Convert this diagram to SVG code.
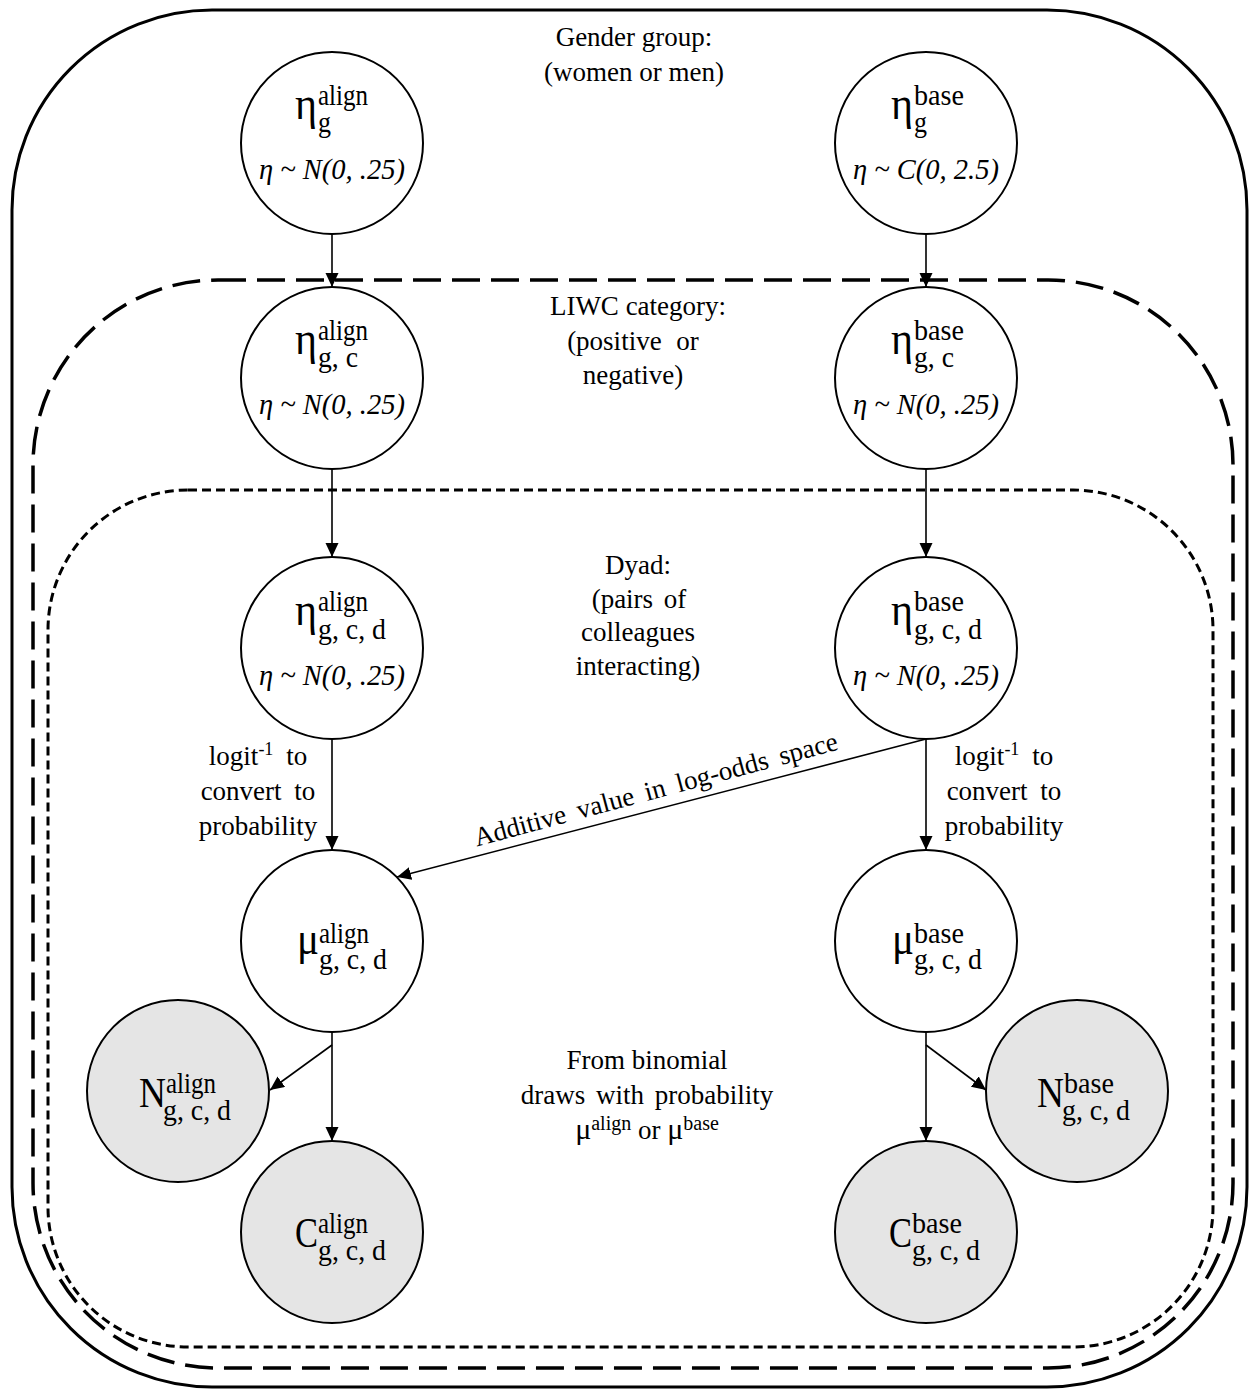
<svg xmlns="http://www.w3.org/2000/svg" width="1257" height="1389" viewBox="0 0 1257 1389">
<defs>
<marker id="ah" markerUnits="userSpaceOnUse" markerWidth="15" markerHeight="14" refX="14" refY="6.5" orient="auto">
<path d="M0,0 L14,6.5 L0,13 z" fill="#000"/>
</marker>
<style>
text{font-family:"Liberation Serif","Times New Roman",serif;fill:#000}
.lbl{font-size:27px;text-anchor:middle}
.big{font-size:46px}
.cap{font-size:42px}
.scr{font-size:30px}
.frm{font-size:29px;font-style:italic;text-anchor:middle}
.node{fill:#fff;stroke:#000;stroke-width:2}
.obs{fill:#e5e5e5;stroke:#000;stroke-width:2}
.edge{stroke:#000;stroke-width:1.6;fill:none;marker-end:url(#ah)}
</style>
</defs>
<rect width="1257" height="1389" fill="#fff"/>
<g id="plates" fill="none" stroke="#000">
<rect id="plate-gender" x="12" y="10" width="1235" height="1377" rx="200" ry="200" stroke-width="3"/>
<rect id="plate-liwc" x="33" y="280" width="1200" height="1088" rx="185" ry="185" stroke-width="3.5" stroke-dasharray="28 11"/>
<rect id="plate-dyad" x="48" y="490" width="1165" height="857" rx="140" ry="140" stroke-width="3" stroke-dasharray="9 5"/>
</g>
<g id="plate-labels">
<text class="lbl" x="634" y="46">Gender group:</text>
<text class="lbl" x="634" y="81">(women or men)</text>
<text class="lbl" x="638" y="315">LIWC category:</text>
<text class="lbl" x="633" y="350" word-spacing="8">(positive or</text>
<text class="lbl" x="633" y="384">negative)</text>
<text class="lbl" x="638" y="574">Dyad:</text>
<text class="lbl" x="639" y="608" word-spacing="4">(pairs of</text>
<text class="lbl" x="638" y="641">colleagues</text>
<text class="lbl" x="638" y="675">interacting)</text>
<text class="lbl" x="647" y="1069">From binomial</text>
<text class="lbl" x="647" y="1104" word-spacing="4">draws with probability</text>
<text class="lbl" x="647" y="1139"><tspan font-size="30">μ</tspan><tspan font-size="20" dy="-9">align</tspan><tspan dy="9"> or </tspan><tspan font-size="30">μ</tspan><tspan font-size="20" dy="-9">base</tspan></text>
</g>
<g id="connectors">
<line class="edge" x1="332" y1="234" x2="332" y2="287"/>
<line class="edge" x1="926" y1="234" x2="926" y2="287"/>
<line class="edge" x1="332" y1="469" x2="332" y2="557"/>
<line class="edge" x1="926" y1="469" x2="926" y2="557"/>
<line class="edge" x1="332" y1="739" x2="332" y2="850"/>
<line class="edge" x1="926" y1="739" x2="926" y2="850"/>
<line class="edge" x1="926" y1="739" x2="397" y2="877"/>
<line class="edge" x1="332" y1="1032" x2="332" y2="1141"/>
<line class="edge" x1="332" y1="1045" x2="270" y2="1090"/>
<line class="edge" x1="926" y1="1032" x2="926" y2="1141"/>
<line class="edge" x1="926" y1="1045" x2="986" y2="1090"/>
<text class="lbl" x="258" y="765">logit<tspan font-size="18" dy="-10">-1</tspan><tspan dy="10" word-spacing="6"> to</tspan></text>
<text class="lbl" x="258" y="800" word-spacing="6">convert to</text>
<text class="lbl" x="258" y="835">probability</text>
<text class="lbl" x="1004" y="765">logit<tspan font-size="18" dy="-10">-1</tspan><tspan dy="10" word-spacing="6"> to</tspan></text>
<text class="lbl" x="1004" y="800" word-spacing="6">convert to</text>
<text class="lbl" x="1004" y="835">probability</text>
<text class="lbl" x="658" y="798" word-spacing="5" transform="rotate(-15 658 798)">Additive value in log-odds space</text>
</g>
<g id="eta-g-align">
<circle class="node" cx="332" cy="143" r="91"/>
<text class="big" x="295" y="119" textLength="22" lengthAdjust="spacingAndGlyphs">η</text>
<text class="scr" x="318" y="105" textLength="50" lengthAdjust="spacingAndGlyphs">align</text>
<text class="scr" x="318" y="132" textLength="13" lengthAdjust="spacingAndGlyphs">g</text>
<text class="frm" x="332" y="179" textLength="146" lengthAdjust="spacingAndGlyphs">η ~ N(0, .25)</text>
</g>
<g id="eta-g-base">
<circle class="node" cx="926" cy="143" r="91"/>
<text class="big" x="891" y="119" textLength="22" lengthAdjust="spacingAndGlyphs">η</text>
<text class="scr" x="914" y="105" textLength="50" lengthAdjust="spacingAndGlyphs">base</text>
<text class="scr" x="914" y="132" textLength="13" lengthAdjust="spacingAndGlyphs">g</text>
<text class="frm" x="926" y="179" textLength="146" lengthAdjust="spacingAndGlyphs">η ~ C(0, 2.5)</text>
</g>
<g id="eta-gc-align">
<circle class="node" cx="332" cy="378" r="91"/>
<text class="big" x="295" y="354" textLength="22" lengthAdjust="spacingAndGlyphs">η</text>
<text class="scr" x="318" y="340" textLength="50" lengthAdjust="spacingAndGlyphs">align</text>
<text class="scr" x="318" y="367" textLength="40" lengthAdjust="spacingAndGlyphs">g, c</text>
<text class="frm" x="332" y="414" textLength="146" lengthAdjust="spacingAndGlyphs">η ~ N(0, .25)</text>
</g>
<g id="eta-gc-base">
<circle class="node" cx="926" cy="378" r="91"/>
<text class="big" x="891" y="354" textLength="22" lengthAdjust="spacingAndGlyphs">η</text>
<text class="scr" x="914" y="340" textLength="50" lengthAdjust="spacingAndGlyphs">base</text>
<text class="scr" x="914" y="367" textLength="40" lengthAdjust="spacingAndGlyphs">g, c</text>
<text class="frm" x="926" y="414" textLength="146" lengthAdjust="spacingAndGlyphs">η ~ N(0, .25)</text>
</g>
<g id="eta-gcd-align">
<circle class="node" cx="332" cy="648" r="91"/>
<text class="big" x="295" y="625" textLength="22" lengthAdjust="spacingAndGlyphs">η</text>
<text class="scr" x="318" y="611" textLength="50" lengthAdjust="spacingAndGlyphs">align</text>
<text class="scr" x="318" y="639" textLength="68" lengthAdjust="spacingAndGlyphs">g, c, d</text>
<text class="frm" x="332" y="685" textLength="146" lengthAdjust="spacingAndGlyphs">η ~ N(0, .25)</text>
</g>
<g id="eta-gcd-base">
<circle class="node" cx="926" cy="648" r="91"/>
<text class="big" x="891" y="625" textLength="22" lengthAdjust="spacingAndGlyphs">η</text>
<text class="scr" x="914" y="611" textLength="50" lengthAdjust="spacingAndGlyphs">base</text>
<text class="scr" x="914" y="639" textLength="68" lengthAdjust="spacingAndGlyphs">g, c, d</text>
<text class="frm" x="926" y="685" textLength="146" lengthAdjust="spacingAndGlyphs">η ~ N(0, .25)</text>
</g>
<g id="mu-align">
<circle class="node" cx="332" cy="941" r="91"/>
<text class="big" x="297" y="954" textLength="22" lengthAdjust="spacingAndGlyphs">μ</text>
<text class="scr" x="319" y="943" textLength="50" lengthAdjust="spacingAndGlyphs">align</text>
<text class="scr" x="319" y="969" textLength="68" lengthAdjust="spacingAndGlyphs">g, c, d</text>
</g>
<g id="mu-base">
<circle class="node" cx="926" cy="941" r="91"/>
<text class="big" x="892" y="954" textLength="22" lengthAdjust="spacingAndGlyphs">μ</text>
<text class="scr" x="914" y="943" textLength="50" lengthAdjust="spacingAndGlyphs">base</text>
<text class="scr" x="914" y="969" textLength="68" lengthAdjust="spacingAndGlyphs">g, c, d</text>
</g>
<g id="n-align">
<circle class="obs" cx="178" cy="1091" r="91"/>
<text class="cap" x="139" y="1107" textLength="27" lengthAdjust="spacingAndGlyphs">N</text>
<text class="scr" x="166" y="1093" textLength="50" lengthAdjust="spacingAndGlyphs">align</text>
<text class="scr" x="163" y="1120" textLength="68" lengthAdjust="spacingAndGlyphs">g, c, d</text>
</g>
<g id="n-base">
<circle class="obs" cx="1077" cy="1091" r="91"/>
<text class="cap" x="1037" y="1107" textLength="27" lengthAdjust="spacingAndGlyphs">N</text>
<text class="scr" x="1064" y="1093" textLength="50" lengthAdjust="spacingAndGlyphs">base</text>
<text class="scr" x="1062" y="1120" textLength="68" lengthAdjust="spacingAndGlyphs">g, c, d</text>
</g>
<g id="c-align">
<circle class="obs" cx="332" cy="1232" r="91"/>
<text class="cap" x="295" y="1247" textLength="23" lengthAdjust="spacingAndGlyphs">C</text>
<text class="scr" x="318" y="1233" textLength="50" lengthAdjust="spacingAndGlyphs">align</text>
<text class="scr" x="318" y="1260" textLength="68" lengthAdjust="spacingAndGlyphs">g, c, d</text>
</g>
<g id="c-base">
<circle class="obs" cx="926" cy="1232" r="91"/>
<text class="cap" x="889" y="1247" textLength="23" lengthAdjust="spacingAndGlyphs">C</text>
<text class="scr" x="912" y="1233" textLength="50" lengthAdjust="spacingAndGlyphs">base</text>
<text class="scr" x="912" y="1260" textLength="68" lengthAdjust="spacingAndGlyphs">g, c, d</text>
</g>
</svg>
